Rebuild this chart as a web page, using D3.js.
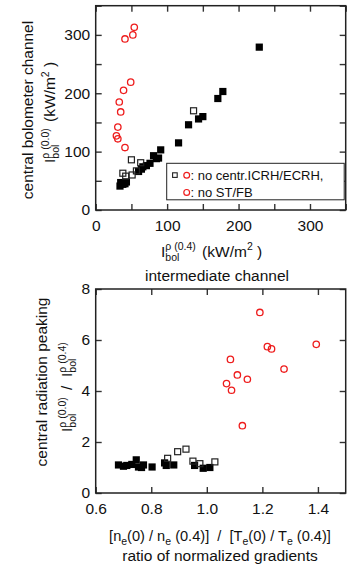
<!DOCTYPE html>
<html><head><meta charset="utf-8">
<script src="https://cdn.jsdelivr.net/npm/d3@7"></script>
<style>
body{margin:0;background:#fff}
svg text{font-family:"Liberation Sans",Arial,Helvetica,sans-serif;fill:#111;white-space:pre}
</style></head><body>
<svg id="c" width="347" height="567"></svg>
<script>
// ---- data: top panel (kW/m^2) ----
const topFilledX = [34,35,38,43,41,60,64,66,71,76,81,85,88,91,116,130,144,150,171,178,229];
const topFilledY = [41,47,44,48,45,66,70,74,76,80,93,88,89,103,115,146,156,160,191,203,279];
const topOpenX = [38,42,51,57,50,63,137];
const topOpenY = [63,58,60,67,86,81,170];
const topRedX = [54,52,41,49,39,33,35,31,29,31,41];
const topRedY = [313,300,293,219,205,185,168,142,127,122,107];
const topXTicks = [0,50,100,150,200,250,300,350];
const topYTicks = [0,50,100,150,200,250,300,350];
// ---- data: bottom panel ----
const botFilledX = [0.682,0.712,0.730,0.746,0.754,0.772,0.803,0.848,0.854,0.881,0.956,0.987,1.011,0.700,0.765];
const botFilledY = [1.10,1.08,1.12,1.30,1.02,1.10,1.02,1.18,1.08,1.10,1.08,0.97,1.00,1.05,1.00];
const botOpenX = [0.925,0.895,0.859,0.950,1.029,0.975];
const botOpenY = [1.72,1.62,1.36,1.25,1.22,1.15];
const botRedX = [1.191,1.085,1.218,1.233,1.394,1.278,1.110,1.146,1.071,1.089,1.128];
const botRedY = [7.08,5.24,5.74,5.65,5.83,4.86,4.63,4.46,4.29,4.03,2.64];
const botXTicks = [0.6,0.8,1.0,1.2,1.4];
const botYTicks = [0,2,4,6,8];

const RED = "#ee1c1c", INK = "#111";
const FS = 15.5, SFS = 10.5;
const svg = d3.select("#c");

const xT = d3.scaleLinear([0,350],[95.7,345.7]);
const yT = d3.scaleLinear([0,350],[210,5.7]);
const xB = d3.scaleLinear([0.6,1.5],[95.7,345.7]);
const yB = d3.scaleLinear([0,8],[493,289]);

function frame(x, y, xticks, yticks, xfmt, yfmt) {
  const [x0,x1] = x.range(), [y0,y1] = y.range();
  const g = svg.append("g");
  const ax = (axis, tr, labels) => {
    const a = g.append("g").attr("transform", tr).call(axis);
    a.select(".domain").remove();
    a.selectAll(".tick line").attr("stroke", "#333").attr("stroke-width", 1.4);
    a.selectAll(".tick text").attr("font-size", FS).attr("font-family", null).attr("fill", INK);
    if (!labels) a.selectAll(".tick text").remove();
    return a;
  };
  ax(d3.axisBottom(x).tickValues(xticks).tickSize(-6).tickPadding(9.5).tickFormat(xfmt), `translate(0,${y0})`, true);
  ax(d3.axisTop(x).tickValues(xticks).tickSize(-6), `translate(0,${y1})`, false);
  ax(d3.axisLeft(y).tickValues(yticks).tickSize(-6).tickPadding(5.5).tickFormat(yfmt), `translate(${x0},0)`, true);
  ax(d3.axisRight(y).tickValues(yticks).tickSize(-6), `translate(${x1},0)`, false);
  g.append("rect").attr("x", x0).attr("y", y1).attr("width", x1-x0).attr("height", y0-y1)
    .attr("fill", "none").attr("stroke", "#222").attr("stroke-width", 1.5);
}

function marks(x, y, fx, fy, ox, oy, rx, ry) {
  const g = svg.append("g");
  const S = 7.2;
  g.selectAll(".f").data(fx.map((v,i)=>[v,fy[i]])).join("rect")
    .attr("x", d=>x(d[0])-S/2).attr("y", d=>y(d[1])-S/2).attr("width", S).attr("height", S).attr("fill", "#000");
  g.selectAll(".o").data(ox.map((v,i)=>[v,oy[i]])).join("rect")
    .attr("x", d=>x(d[0])-S/2+0.6).attr("y", d=>y(d[1])-S/2+0.6).attr("width", S-1.2).attr("height", S-1.2)
    .attr("fill", "none").attr("stroke", "#222").attr("stroke-width", 1.2);
  g.selectAll(".r").data(rx.map((v,i)=>[v,ry[i]])).join("circle")
    .attr("cx", d=>x(d[0])).attr("cy", d=>y(d[1])).attr("r", 3.2)
    .attr("fill", "none").attr("stroke", RED).attr("stroke-width", 1.3);
}

// rich text: parts = strings or {sup, sub}
function rich(parts, px, py, rot, anchor, fs, sfs) {
  const g = svg.append("g");
  let x = 0;
  for (const p of parts) {
    if (typeof p === "string") {
      const t = g.append("text").attr("x", x).attr("y", 0).attr("font-size", fs).text(p);
      x += t.node().getComputedTextLength();
    } else {
      let w = 0;
      if (p.sup) { const t = g.append("text").attr("x", x).attr("y", -fs*0.42).attr("font-size", sfs).text(p.sup); w = Math.max(w, t.node().getComputedTextLength()); }
      if (p.sub) { const t = g.append("text").attr("x", x).attr("y", fs*0.28).attr("font-size", sfs).text(p.sub); w = Math.max(w, t.node().getComputedTextLength()); }
      x += w + (p.pad || 0);
    }
  }
  const shift = anchor === "middle" ? -x/2 : 0;
  g.attr("transform", `translate(${px},${py}) rotate(${rot}) translate(${shift},0)`);
}
function plain(txt, px, py, rot, fs) {
  svg.append("text").attr("transform", `translate(${px},${py}) rotate(${rot})`)
    .attr("text-anchor", "middle").attr("font-size", fs).text(txt);
}

// ---- top panel ----
frame(xT, yT, topXTicks, topYTicks, d => d % 100 === 0 ? d : "", d => d % 100 === 0 ? d : "");
marks(xT, yT, topFilledX, topFilledY, topOpenX, topOpenY, topRedX, topRedY);

// legend
const lg = svg.append("g");
lg.append("rect").attr("x", 166.7).attr("y", 163.3).attr("width", 177.5).attr("height", 36.5)
  .attr("fill", "#fff").attr("stroke", "#222").attr("stroke-width", 1);
lg.append("rect").attr("x", 172.6).attr("y", 172.8).attr("width", 4.6).attr("height", 4.6)
  .attr("fill", "none").attr("stroke", "#222").attr("stroke-width", 1.1);
lg.append("circle").attr("cx", 186.7).attr("cy", 175.2).attr("r", 2.9).attr("fill", "none").attr("stroke", RED).attr("stroke-width", 1.2);
lg.append("circle").attr("cx", 186.7).attr("cy", 192.4).attr("r", 2.9).attr("fill", "none").attr("stroke", RED).attr("stroke-width", 1.2);
lg.append("text").attr("x", 190.5).attr("y", 179.5).attr("font-size", 13).text(": no centr.ICRH/ECRH,");
lg.append("text").attr("x", 190.5).attr("y", 196.7).attr("font-size", 13).text(": no ST/FB");

// top axis titles
rich(["I", {sup:"ρ (0.4)", sub:"bol", pad:2}, " (kW/m", {sup:"2"}, " )"], 161, 256.5, 0, "left", FS, SFS);
plain("intermediate channel", 217, 280.5, 0, FS);
plain("central bolometer channel", 33, 110, -90, FS);
rich(["I", {sup:"ρ (0.0)", sub:"bol", pad:2}, " (kW/m", {sup:"2"}, " )"], 55, 163, -90, "left", FS, SFS);

// ---- bottom panel ----
frame(xB, yB, botXTicks, botYTicks, d3.format(".1f"), d3.format("d"));
marks(xB, yB, botFilledX, botFilledY, botOpenX, botOpenY, botRedX, botRedY);

plain("central radiation peaking", 47, 382, -90, FS);
rich(["I", {sup:"ρ (0.0)", sub:"bol", pad:3}, " /  I", {sup:"ρ (0.4)", sub:"bol"}], 72, 432, -90, "left", FS, SFS);

// bottom x titles
const FS2 = 14.6;
rich(["[n", {sub:"e"}, "(0) / n", {sub:"e"}, " (0.4)]  /  [T", {sub:"e"}, "(0) / T", {sub:"e"}, " (0.4)]"], 220, 540.5, 0, "middle", FS2, 10.5);
plain("ratio of normalized gradients", 220, 561, 0, FS);
</script>
</body></html>
